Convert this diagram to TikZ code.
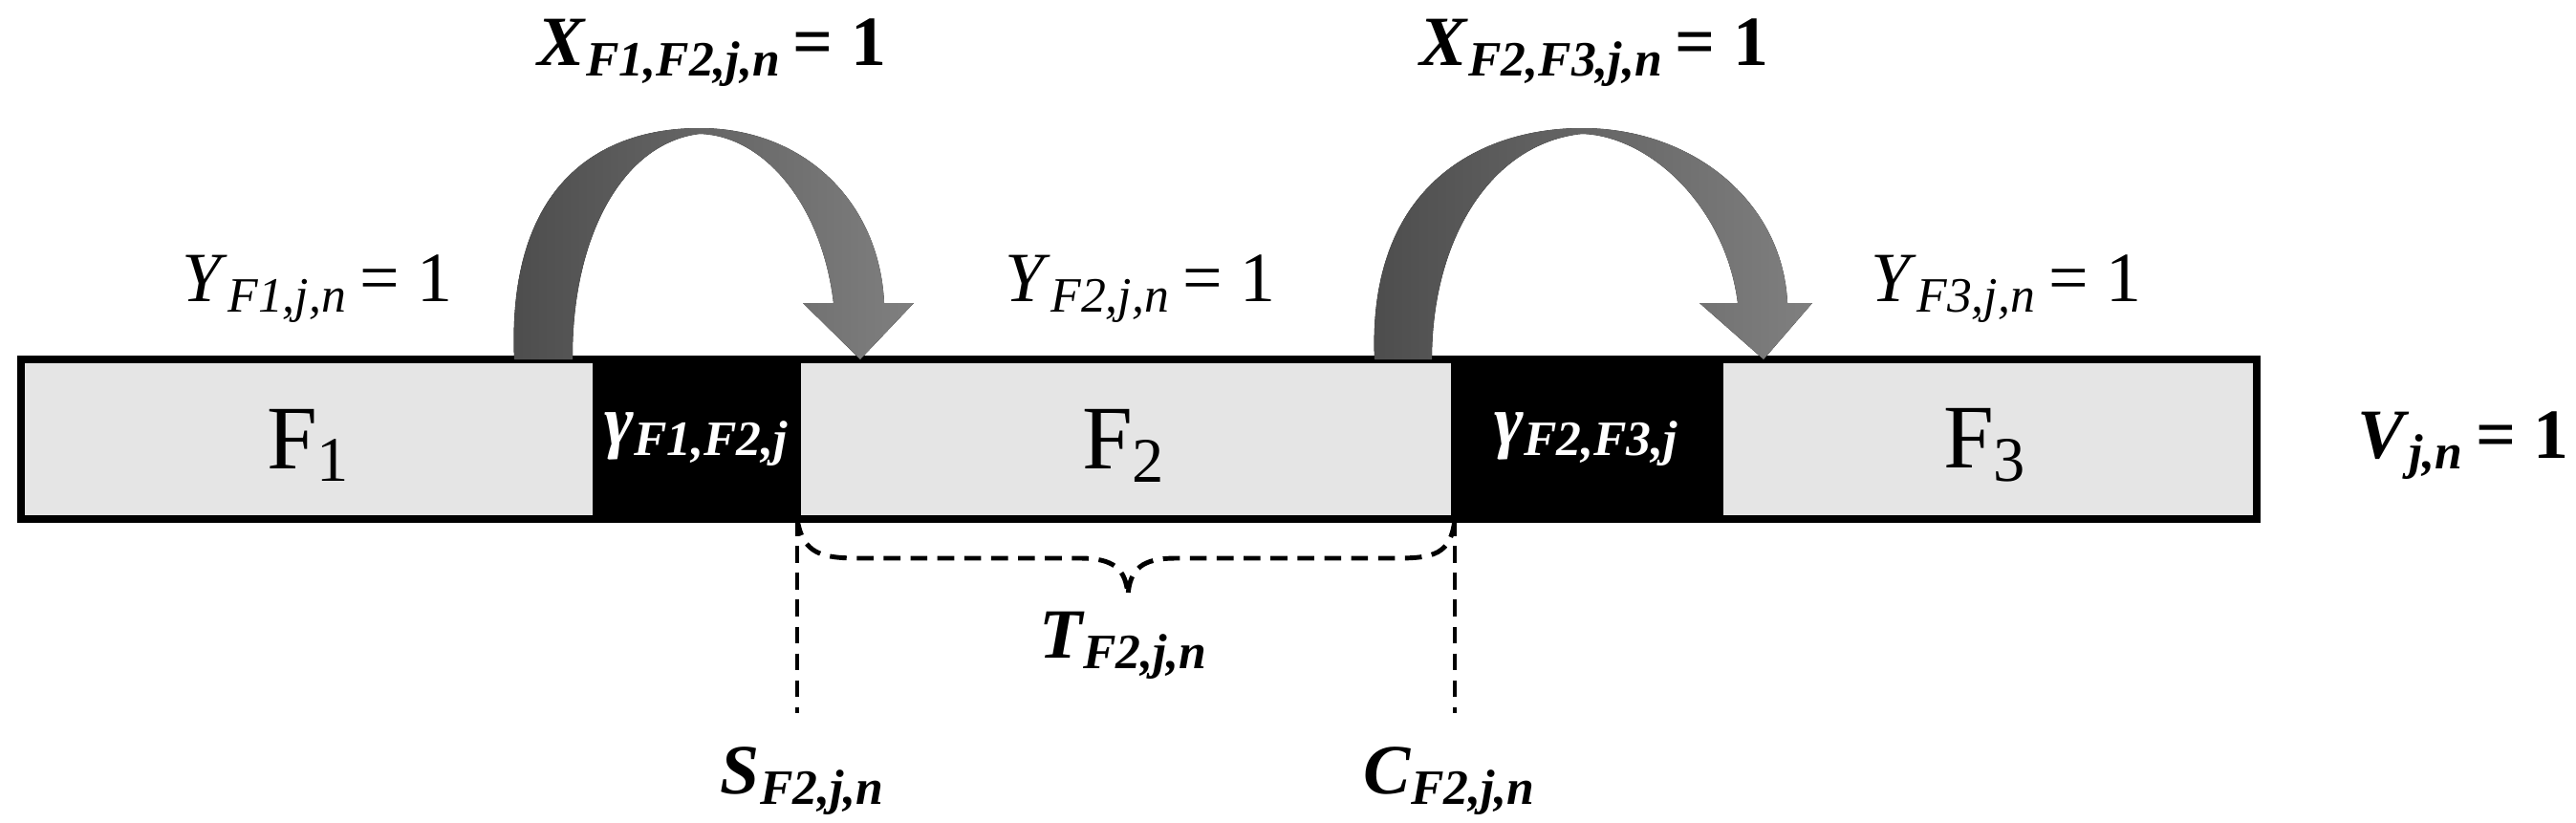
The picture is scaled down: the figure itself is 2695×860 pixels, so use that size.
\documentclass[tikz,border=0pt]{standalone}
\usepackage{fontspec}
\setmainfont{Liberation Serif}
\begin{document}
\begin{tikzpicture}[x=0.01cm,y=-0.01cm,
  seg/.style={draw=black,line width=2.2pt},
  lbl/.style={font=\fontsize{21}{24}\selectfont},
  blbl/.style={font=\fontsize{21}{24}\selectfont\bfseries\itshape},
  dsh/.style={dash pattern=on 5pt off 3pt,line width=1.4pt},
  arr/.style={left color=black!70,right color=black!50,draw=none}]
\useasboundingbox (0,0) rectangle (2695,860);
% bar segments
\draw[seg,fill=black!10] (22,376) rectangle (624,543);
\draw[seg,fill=black] (624,376) rectangle (834,543);
\draw[seg,fill=black!10] (834,376) rectangle (1522,543);
\draw[seg,fill=black] (1522,376) rectangle (1799,543);
\draw[seg,fill=black!10] (1799,376) rectangle (2361,543);
\node[font=\fontsize{27}{30}\selectfont] (f1) at (323,466) {F\textsubscript{1}};
\node[font=\fontsize{27}{30}\selectfont] (f2) at (1176,466) {F\textsubscript{2}};
\node[font=\fontsize{27}{30}\selectfont] (f3) at (2077,466) {F\textsubscript{3}};
\node[blbl,text=white] (g1) at (729,460) {γ\textsubscript{F1,F2,j}};
\node[blbl,text=white] (g2) at (1660,460) {γ\textsubscript{F2,F3,j}};
\node[font=\fontsize{21}{24}\selectfont\bfseries] (v) at (2577,466) {\textit{V}\textsubscript{\textit{j,n}}\,= 1};
% arrows
\fill[arr] (538,376) .. controls (530,190) and (630,134) .. (732,134)
  .. controls (840,134) and (920,210) .. (925,317) -- (956,317) -- (900,376) -- (840,317) -- (872,317)
  .. controls (860,215) and (800,142) .. (732,140)
  .. controls (650,150) and (598,250) .. (599,376) -- cycle;
\fill[arr] (1438,376) .. controls (1430,190) and (1553,134) .. (1655,134)
  .. controls (1770,134) and (1865,210) .. (1870,317) -- (1896,317) -- (1845,376) -- (1778,317) -- (1818,317)
  .. controls (1805,215) and (1725,142) .. (1655,140)
  .. controls (1560,150) and (1498,250) .. (1498,376) -- cycle;
\node[font=\fontsize{21}{24}\selectfont\bfseries] (x1) at (745,55) {\textit{X}\textsubscript{\textit{F1,F2,j,n}}\,= 1};
\node[font=\fontsize{21}{24}\selectfont\bfseries] (x2) at (1668,55) {\textit{X}\textsubscript{\textit{F2,F3,j,n}}\,= 1};
\node[lbl] (y1) at (332,302) {\textit{Y}\textsubscript{\textit{F1,j,n}}\,= 1};
\node[lbl] (y2) at (1193,302) {\textit{Y}\textsubscript{\textit{F2,j,n}}\,= 1};
\node[lbl] (y3) at (2099,302) {\textit{Y}\textsubscript{\textit{F3,j,n}}\,= 1};
% dashed markers
\coordinate (sa) at (834,543); \coordinate (sb) at (834,746);
\coordinate (ca) at (1522,543); \coordinate (cb) at (1522,746);
\draw[dsh] (sa) -- (sb);
\draw[dsh] (ca) -- (cb);
\draw[dsh] (sa) .. controls (840,580) and (860,584) .. (900,584) -- (1130,584)
  .. controls (1165,584) and (1178,595) .. (1180,623)
  .. controls (1182,595) and (1195,584) .. (1230,584) -- (1460,584)
  .. controls (1500,584) and (1518,580) .. (ca);
\node[blbl] (t) at (1176,675) {T\textsubscript{F2,j,n}};
\node[blbl] (s) at (840,817) {S\textsubscript{F2,j,n}};
\node[blbl] (c) at (1517,817) {C\textsubscript{F2,j,n}};
\end{tikzpicture}
\end{document}
